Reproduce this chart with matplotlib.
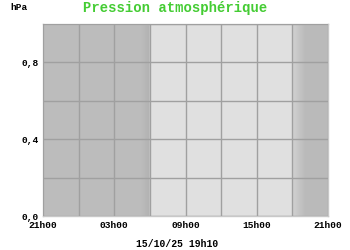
import numpy as np
import matplotlib

matplotlib.use("Agg")

import matplotlib.pyplot as plt  # noqa: E402

# Hours since 21h00 the day before, spanning one day.
x_ticks = [0, 6, 12, 18, 24]
x_labels = ["21h00", "03h00", "09h00", "15h00", "21h00"]
y_ticks = [0.0, 0.4, 0.8]
y_labels = ["0,0", "0,4", "0,8"]

# Day/night shading knots: hour -> grey level (night dark, day light).
shade_hours = [0.0, 8.2, 8.95, 9.0, 21.0, 21.05, 22.1, 24.0]
shade_grey = [0.74, 0.74, 0.70, 0.88, 0.88, 0.82, 0.73, 0.73]

title = "Pression atmosphérique"
unit = "hPa"
stamp = "15/10/25 19h10"

mono = "Liberation Mono"

fig = plt.figure(figsize=(3.5, 2.5), dpi=100)
ax = fig.add_axes([43 / 350, 34 / 250, 285 / 350, 192 / 250])

xs = np.linspace(0, 24, 600)
grey = np.interp(xs, shade_hours, shade_grey)
img = np.repeat(grey[np.newaxis, :, np.newaxis], 3, axis=2)
ax.imshow(img, extent=[0, 24, 0, 1], aspect="auto", zorder=0, interpolation="bilinear")

ax.set_xlim(0, 24)
ax.set_ylim(0, 1)

# Labels every 6 h / every 0.4 hPa, grid every 3 h / 0.2 hPa.
ax.set_xticks(x_ticks, x_labels)
ax.set_yticks(y_ticks, y_labels)
ax.set_xticks(np.arange(0, 25, 3), minor=True)
ax.set_yticks(np.arange(0, 1.01, 0.2), minor=True)
ax.grid(True, which="both", color="#a0a0a0", linewidth=1, zorder=1)
ax.set_axisbelow(False)
ax.tick_params(which="both", length=0)
ax.tick_params(axis="x", pad=3.5)
ax.tick_params(axis="y", pad=3)
for lbl in ax.get_xticklabels() + ax.get_yticklabels():
    lbl.set_fontfamily(mono)
    lbl.set_fontweight("bold")
    lbl.set_fontsize(6.8)

for spine in ax.spines.values():
    spine.set_color("#c8c8c8")
    spine.set_linewidth(1)

fig.text(175 / 350, 1 - 8 / 250, title, color="#44cc33", fontsize=10,
         family=mono, fontweight="bold", ha="center", va="center")
fig.text(10 / 350, 1 - 7 / 250, unit, fontsize=6.8, family=mono,
         fontweight="bold", ha="left", va="center")
fig.text(177 / 350, 1 - 244 / 250, stamp, fontsize=7, family=mono,
         fontweight="bold", ha="center", va="center")

fig.savefig("out.png", dpi=100)
